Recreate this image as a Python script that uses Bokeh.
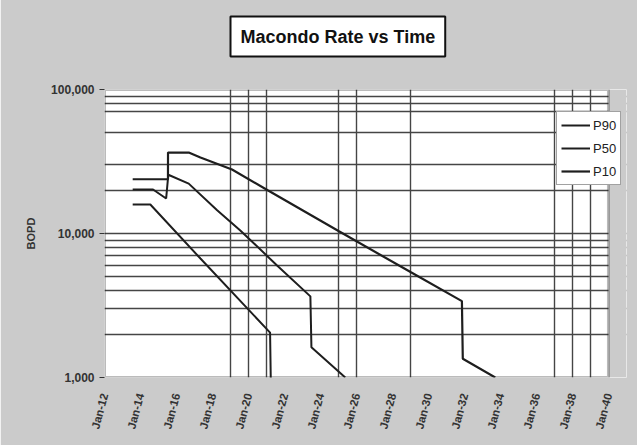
from datetime import datetime
import math
import pandas as pd
from bokeh.plotting import figure
from bokeh.models import (Range1d, FixedTicker, NumeralTickFormatter, DatetimeTickFormatter,
                          Legend, LegendItem, Title, BoxAnnotation, ColumnDataSource)
from bokeh.embed import file_html
from bokeh.resources import INLINE

# ---------------- data ----------------
title_text = "Macondo Rate vs Time"
y_axis_title = "BOPD"
series_names = ["P90", "P50", "P10"]

p90_dates = ["2013-07-26", "2014-07-19", "2017-05-01", "2021-03-14", "2021-04-01"]
p90_bopd = [15900, 15900, 6700, 2050, 800]

p50_dates = ["2013-07-26", "2014-09-12", "2015-06-05", "2015-07-19", "2016-09-05",
             "2018-04-05", "2019-07-19", "2021-08-03", "2023-06-10", "2023-07-01", "2025-05-18"]
p50_bopd = [20200, 20200, 17500, 25600, 22200, 14500, 10500, 6000, 3660, 1625, 1000]

p10_dates = ["2013-07-26", "2015-07-12", "2015-07-13", "2016-09-05", "2017-05-01",
             "2019-02-01", "2021-01-25", "2025-01-01", "2029-01-01", "2031-11-10",
             "2031-11-28", "2033-09-17"]
p10_bopd = [23800, 23800, 36500, 36500, 33700, 27800, 19950, 10400, 5400, 3390, 1350, 1000]

x_tick_years = list(range(2012, 2041, 2))
x_grid_years = [2019, 2020, 2021, 2025, 2026, 2029, 2037, 2038, 2039]
y_ticks = [1000, 10000, 100000]
y_grid_values = [2000, 3000, 4000, 5000, 6000, 7000, 8000, 9000, 10000,
                 20000, 30000, 50000, 70000, 80000, 90000]
x_start, x_end = 2012, 2040
y_start, y_end = 1000, 100000


def ms(year):
    return (datetime(year, 1, 1) - datetime(1970, 1, 1)).total_seconds() * 1000.0


# ---------------- figure ----------------
FONT = "Liberation Sans"
BG = "#cbcbcb"
INK = "#1e1e1e"

# the frame is one year wider than the data area so that the legend can
# overhang the right edge; that extra strip is painted like the background.
# The title panel needs 108px, the canvas is shifted up by 19px so that the
# plot area starts 89px below the top of the window.
p = figure(frame_width=522, frame_height=288,
           min_border_left=104, min_border_right=11, min_border_top=108, min_border_bottom=68,
           x_axis_type="datetime", y_axis_type="log",
           x_range=Range1d(datetime(x_start, 1, 1), datetime(x_end + 1, 1, 1)),
           y_range=Range1d(y_start, y_end),
           output_backend="svg", toolbar_location=None)
p.styles = {"margin-top": "-19px"}

p.background_fill_color = "white"
p.border_fill_color = BG
p.outline_line_color = None

# grids
p.xgrid.ticker = FixedTicker(ticks=[ms(y) for y in x_grid_years])
p.ygrid.ticker = FixedTicker(ticks=y_grid_values)
for g in (p.xgrid, p.ygrid):
    g.grid_line_color = "#454545"
    g.grid_line_width = 1.4

# x axis
xa = p.xaxis[0]
xa.ticker = FixedTicker(ticks=[ms(y) for y in x_tick_years])
xa.formatter = DatetimeTickFormatter(years="%b-%y", months="%b-%y", days="%b-%y")
xa.major_label_orientation = 75 * math.pi / 180
xa.major_label_text_font = FONT
xa.major_label_text_font_style = "bold"
xa.major_label_text_font_size = "11.5px"
xa.major_label_text_color = "#333333"
xa.major_label_standoff = 10
xa.axis_line_color = None
xa.major_tick_line_color = None
xa.minor_tick_line_color = None

# y axis
ya = p.yaxis[0]
ya.ticker = FixedTicker(ticks=y_ticks)
ya.formatter = NumeralTickFormatter(format="0,0")
ya.major_label_text_font = FONT
ya.major_label_text_font_style = "bold"
ya.major_label_text_font_size = "12px"
ya.major_label_text_color = "#333333"
ya.major_label_standoff = 5
ya.axis_line_color = None
ya.major_tick_out = 5
ya.major_tick_in = 0
ya.major_tick_line_color = "#333333"
ya.minor_tick_line_color = None
ya.axis_label = y_axis_title
ya.axis_label_text_font = FONT
ya.axis_label_text_font_style = "bold"
ya.axis_label_text_font_size = "11px"
ya.axis_label_text_color = "#333333"
ya.axis_label_standoff = 11

# series
renderers = []
for name, dates, vals, lw in [("P90", p90_dates, p90_bopd, 2.0),
                              ("P50", p50_dates, p50_bopd, 2.0),
                              ("P10", p10_dates, p10_bopd, 2.2)]:
    src = ColumnDataSource(dict(x=pd.to_datetime(dates), y=vals))
    r = p.line("x", "y", source=src, line_color=INK, line_width=lw)
    renderers.append((name, r))

# strip right of Jan-40 painted as background, then the plot-area border
p.add_layout(BoxAnnotation(left=ms(x_end), fill_color=BG, fill_alpha=1.0,
                           line_color=None))
p.add_layout(BoxAnnotation(left=ms(x_start), right=ms(x_end), bottom=y_start, top=y_end,
                           fill_alpha=0, line_color=INK, line_width=3))

legend = Legend(items=[LegendItem(label=n, renderers=[r]) for n, r in renderers],
                location=(452, 192))
legend.label_text_font = FONT
legend.label_text_font_size = "13px"
legend.label_text_color = "#222222"
legend.glyph_width = 29
legend.glyph_height = 18
legend.label_height = 18
legend.label_standoff = 3
legend.spacing = 5
legend.padding = 4
legend.margin = 0
legend.border_line_color = "#444444"
legend.border_line_width = 1
legend.background_fill_color = "white"
legend.background_fill_alpha = 1.0
p.add_layout(legend, "center")

title = Title(text=title_text, align="left", offset=126, standoff=66,
              text_font=FONT, text_font_style="bold", text_font_size="18px",
              text_color="#111111",
              background_fill_color="white", border_line_color="#111111",
              border_line_width=2, padding=10)
p.add_layout(title, "above")

open("out.html", "w").write(file_html(p, INLINE))
